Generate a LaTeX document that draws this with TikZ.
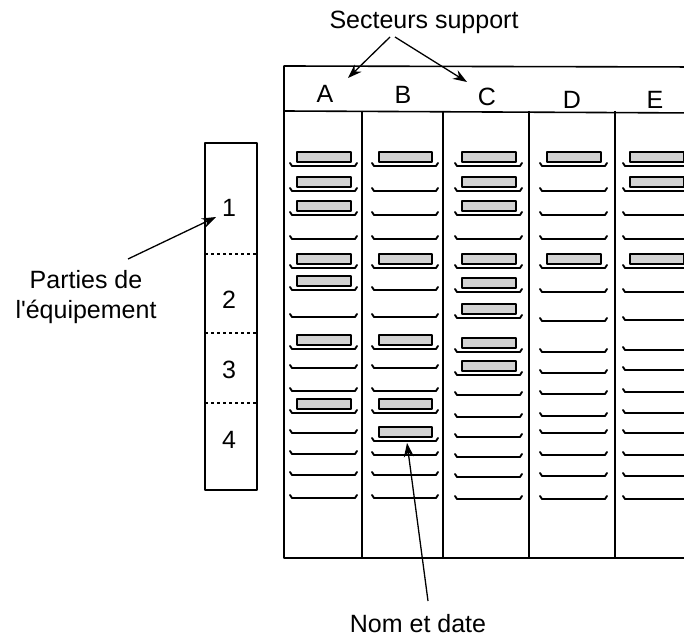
\documentclass[tikz,border=0pt]{standalone}
\usepackage{fontspec}
\setmainfont{Liberation Sans}[Ligatures=TeXOff]
\usetikzlibrary{arrows.meta}
\begin{document}
\begin{tikzpicture}[x=1pt,y=-1pt, line join=round,
  frame/.style={line width=1.6pt},
  shelf/.style={line width=1.9pt, line cap=round},
  tagbox/.style={draw, line width=1.5pt, fill=gray!35},
  lbl/.style={font=\fontsize{25}{30}\selectfont, inner sep=0pt},
  arr/.style={line width=1.3pt, -{Stealth[length=14pt,width=10pt]}},
  sepline/.style={dashed, line width=1.1pt}]
\useasboundingbox (0,0) rectangle (684,639);
\begin{scope}
\clip (0,0) rectangle (684,639);
% main grid
\draw[frame] (700,67) -- (284,66) -- (284,558) -- (700,558);
\draw[frame] (284,111) -- (700,113);
\foreach \x in {362,443,529,615} \draw[frame] (\x,111) -- (\x,558);
% shelves
\foreach \a/\b/\ys in {
  290/357/{166,191,215,239,268,290,317,349,368,391,413,433,454,475,498},
  372/438/{166,191,215,239,268,290,317,349,368,391,413,441,455,475,498},
  455/522/{166,191,215,239,268,292,318,352,375,395,417,437,457,477,499},
  540/607/{166,191,215,239,268,292,321,352,373,394,416,433,455,476,499},
  623/690/{166,191,215,239,268,292,320,350,370,392,413,433,455,476,499}}{
  \foreach \y in \ys {
    \draw[shelf] (\a,\y-3) -- (\a+2,\y) -- (\b-2,\y) -- (\b,\y-3);
  }
}
% name tags
\foreach \a/\b/\ys in {
  290/357/{166,191,215,268,290,349,413},
  372/438/{166,268,349,413,441},
  455/522/{166,191,215,268,292,318,352,375},
  540/607/{166,268},
  623/690/{166,191,268}}{
  \foreach \y in \ys {
    \draw[tagbox] (\a+7,\y-14) rectangle (\b-6,\y-4);
  }
}
\end{scope}
% header letters
\node[lbl] (hA) at (325,94) {A};
\node[lbl] (hB) at (403,95) {B};
\node[lbl] (hC) at (487,97) {C};
\node[lbl] (hD) at (572,100) {D};
\node[lbl] (hE) at (655,100) {E};
% title and arrows
\node[lbl] (sect) at (424,22) {Secteurs support};
\coordinate (s1) at (390,37);
\coordinate (s2) at (395,37);
\coordinate (tA) at (348,78);
\coordinate (tC) at (467,82);
\draw[arr] (s1) -- (tA);
\draw[arr] (s2) -- (tC);
% left box
\draw[frame] (205,143) rectangle (257,490);
\draw[sepline] (205,254) -- (257,254);
\draw[sepline] (205,333) -- (257,333);
\draw[sepline] (205,403) -- (257,403);
\node[lbl] (n1) at (229,208) {1};
\node[lbl] (n2) at (229,300) {2};
\node[lbl] (n3) at (229,370) {3};
\node[lbl] (n4) at (229,440) {4};
% parties label
\node[lbl, align=center] (parts) at (86,297) {Parties de\\l'équipement};
\coordinate (p0) at (128,259);
\coordinate (p1) at (216,217);
\draw[arr] (p0) -- (p1);
% nom et date
\node[lbl] (nom) at (418,624) {Nom et date};
\coordinate (q0) at (428,601);
\coordinate (q1) at (407,443);
\draw[arr] (q0) -- (q1);
\end{tikzpicture}
\end{document}
